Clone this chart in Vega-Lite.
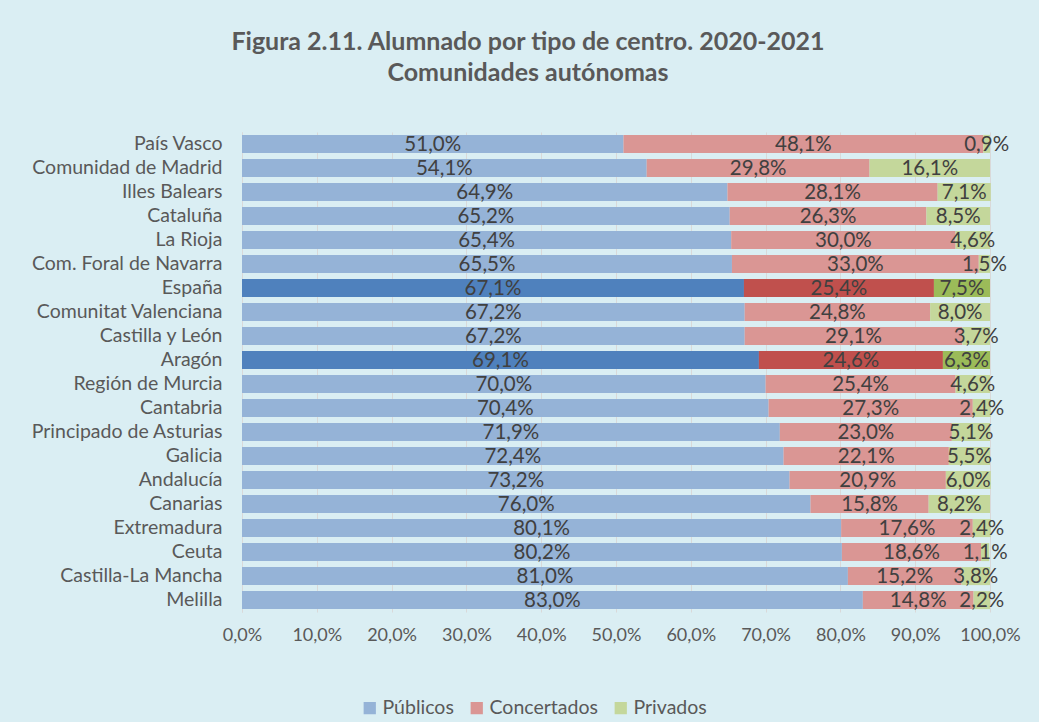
{
  "$schema": "https://vega.github.io/schema/vega-lite/v6.json",
  "autosize": {"type": "none"},
  "width": 748,
  "height": 480,
  "padding": {"left": 242, "top": 132, "right": 49, "bottom": 110},
  "background": "#DAEEF3",
  "config": {
    "locale": {"number": {"decimal": ",", "thousands": ".", "grouping": [3], "currency": ["", "%"]}},
    "view": {"stroke": null},
    "font": "Lato"
  },
  "title": {
    "text": ["Figura 2.11. Alumnado por tipo de centro. 2020-2021", "Comunidades autónomas"],
    "anchor": "middle",
    "frame": "group",
    "dx": -88,
    "offset": 46,
    "fontSize": 25,
    "fontWeight": "bold",
    "color": "#595959",
    "lineHeight": 31,
    "font": "Lato"
  },
  "data": {"values": [
    {"r": "País Vasco", "tipo": "Públicos", "o": 1, "v": 51.0, "h": false},
    {"r": "País Vasco", "tipo": "Concertados", "o": 2, "v": 48.1, "h": false},
    {"r": "País Vasco", "tipo": "Privados", "o": 3, "v": 0.9, "h": false},
    {"r": "Comunidad de Madrid", "tipo": "Públicos", "o": 1, "v": 54.1, "h": false},
    {"r": "Comunidad de Madrid", "tipo": "Concertados", "o": 2, "v": 29.8, "h": false},
    {"r": "Comunidad de Madrid", "tipo": "Privados", "o": 3, "v": 16.1, "h": false},
    {"r": "Illes Balears", "tipo": "Públicos", "o": 1, "v": 64.9, "h": false},
    {"r": "Illes Balears", "tipo": "Concertados", "o": 2, "v": 28.1, "h": false},
    {"r": "Illes Balears", "tipo": "Privados", "o": 3, "v": 7.1, "h": false},
    {"r": "Cataluña", "tipo": "Públicos", "o": 1, "v": 65.2, "h": false},
    {"r": "Cataluña", "tipo": "Concertados", "o": 2, "v": 26.3, "h": false},
    {"r": "Cataluña", "tipo": "Privados", "o": 3, "v": 8.5, "h": false},
    {"r": "La Rioja", "tipo": "Públicos", "o": 1, "v": 65.4, "h": false},
    {"r": "La Rioja", "tipo": "Concertados", "o": 2, "v": 30.0, "h": false},
    {"r": "La Rioja", "tipo": "Privados", "o": 3, "v": 4.6, "h": false},
    {"r": "Com. Foral de Navarra", "tipo": "Públicos", "o": 1, "v": 65.5, "h": false},
    {"r": "Com. Foral de Navarra", "tipo": "Concertados", "o": 2, "v": 33.0, "h": false},
    {"r": "Com. Foral de Navarra", "tipo": "Privados", "o": 3, "v": 1.5, "h": false},
    {"r": "España", "tipo": "Públicos", "o": 1, "v": 67.1, "h": true},
    {"r": "España", "tipo": "Concertados", "o": 2, "v": 25.4, "h": true},
    {"r": "España", "tipo": "Privados", "o": 3, "v": 7.5, "h": true},
    {"r": "Comunitat Valenciana", "tipo": "Públicos", "o": 1, "v": 67.2, "h": false},
    {"r": "Comunitat Valenciana", "tipo": "Concertados", "o": 2, "v": 24.8, "h": false},
    {"r": "Comunitat Valenciana", "tipo": "Privados", "o": 3, "v": 8.0, "h": false},
    {"r": "Castilla y León", "tipo": "Públicos", "o": 1, "v": 67.2, "h": false},
    {"r": "Castilla y León", "tipo": "Concertados", "o": 2, "v": 29.1, "h": false},
    {"r": "Castilla y León", "tipo": "Privados", "o": 3, "v": 3.7, "h": false},
    {"r": "Aragón", "tipo": "Públicos", "o": 1, "v": 69.1, "h": true},
    {"r": "Aragón", "tipo": "Concertados", "o": 2, "v": 24.6, "h": true},
    {"r": "Aragón", "tipo": "Privados", "o": 3, "v": 6.3, "h": true},
    {"r": "Región de Murcia", "tipo": "Públicos", "o": 1, "v": 70.0, "h": false},
    {"r": "Región de Murcia", "tipo": "Concertados", "o": 2, "v": 25.4, "h": false},
    {"r": "Región de Murcia", "tipo": "Privados", "o": 3, "v": 4.6, "h": false},
    {"r": "Cantabria", "tipo": "Públicos", "o": 1, "v": 70.4, "h": false},
    {"r": "Cantabria", "tipo": "Concertados", "o": 2, "v": 27.3, "h": false},
    {"r": "Cantabria", "tipo": "Privados", "o": 3, "v": 2.4, "h": false},
    {"r": "Principado de Asturias", "tipo": "Públicos", "o": 1, "v": 71.9, "h": false},
    {"r": "Principado de Asturias", "tipo": "Concertados", "o": 2, "v": 23.0, "h": false},
    {"r": "Principado de Asturias", "tipo": "Privados", "o": 3, "v": 5.1, "h": false},
    {"r": "Galicia", "tipo": "Públicos", "o": 1, "v": 72.4, "h": false},
    {"r": "Galicia", "tipo": "Concertados", "o": 2, "v": 22.1, "h": false},
    {"r": "Galicia", "tipo": "Privados", "o": 3, "v": 5.5, "h": false},
    {"r": "Andalucía", "tipo": "Públicos", "o": 1, "v": 73.2, "h": false},
    {"r": "Andalucía", "tipo": "Concertados", "o": 2, "v": 20.9, "h": false},
    {"r": "Andalucía", "tipo": "Privados", "o": 3, "v": 6.0, "h": false},
    {"r": "Canarias", "tipo": "Públicos", "o": 1, "v": 76.0, "h": false},
    {"r": "Canarias", "tipo": "Concertados", "o": 2, "v": 15.8, "h": false},
    {"r": "Canarias", "tipo": "Privados", "o": 3, "v": 8.2, "h": false},
    {"r": "Extremadura", "tipo": "Públicos", "o": 1, "v": 80.1, "h": false},
    {"r": "Extremadura", "tipo": "Concertados", "o": 2, "v": 17.6, "h": false},
    {"r": "Extremadura", "tipo": "Privados", "o": 3, "v": 2.4, "h": false},
    {"r": "Ceuta", "tipo": "Públicos", "o": 1, "v": 80.2, "h": false},
    {"r": "Ceuta", "tipo": "Concertados", "o": 2, "v": 18.6, "h": false},
    {"r": "Ceuta", "tipo": "Privados", "o": 3, "v": 1.1, "h": false},
    {"r": "Castilla-La Mancha", "tipo": "Públicos", "o": 1, "v": 81.0, "h": false},
    {"r": "Castilla-La Mancha", "tipo": "Concertados", "o": 2, "v": 15.2, "h": false},
    {"r": "Castilla-La Mancha", "tipo": "Privados", "o": 3, "v": 3.8, "h": false},
    {"r": "Melilla", "tipo": "Públicos", "o": 1, "v": 83.0, "h": false},
    {"r": "Melilla", "tipo": "Concertados", "o": 2, "v": 14.8, "h": false},
    {"r": "Melilla", "tipo": "Privados", "o": 3, "v": 2.2, "h": false}
  ]},
  "transform": [
    {"stack": "v", "groupby": ["r"], "sort": [{"field": "o"}], "as": ["x0", "x1"]},
    {"calculate": "(datum.x0 + datum.x1) / 2", "as": "xm"}
  ],
  "encoding": {
    "y": {
      "field": "r",
      "type": "nominal",
      "sort": ["País Vasco", "Comunidad de Madrid", "Illes Balears", "Cataluña", "La Rioja", "Com. Foral de Navarra", "España", "Comunitat Valenciana", "Castilla y León", "Aragón", "Región de Murcia", "Cantabria", "Principado de Asturias", "Galicia", "Andalucía", "Canarias", "Extremadura", "Ceuta", "Castilla-La Mancha", "Melilla"],
      "scale": {"paddingInner": 0.25, "paddingOuter": 0.12},
      "axis": {
        "title": null,
        "ticks": false,
        "domain": true,
        "domainColor": "#D9D9D9",
        "labelFontSize": 19.5,
        "labelColor": "#595959",
        "labelPadding": 20,
        "labelLimit": 300,
        "labelFont": "Lato"
      }
    }
  },
  "layer": [
    {
      "mark": {"type": "bar"},
      "encoding": {
        "x": {
          "field": "x0",
          "type": "quantitative",
          "scale": {"domain": [0, 100], "nice": false},
          "axis": {
            "title": null,
            "values": [0, 10, 20, 30, 40, 50, 60, 70, 80, 90, 100],
            "format": "$.1f",
            "grid": true,
            "gridColor": "#D9D9D9",
            "ticks": false,
            "domain": false,
            "labelOverlap": false,
            "labelFlush": false,
            "labelFontSize": 18,
            "labelColor": "#595959",
            "labelPadding": 14,
            "labelFont": "Lato"
          }
        },
        "x2": {"field": "x1"},
        "color": {
          "field": "tipo",
          "type": "nominal",
          "scale": {"domain": ["Públicos", "Concertados", "Privados"], "range": ["#95B3D7", "#DA9694", "#C4D79B"]},
          "legend": {
            "title": null,
            "orient": "none",
            "direction": "horizontal",
            "legendX": 118,
            "legendY": 566,
            "symbolType": "square",
            "symbolSize": 150,
            "symbolStrokeWidth": 0,
            "labelFontSize": 19.5,
            "labelColor": "#595959",
            "labelFont": "Lato",
            "columnPadding": 13,
            "labelOffset": 3
          }
        }
      }
    },
    {
      "transform": [{"filter": "datum.h"}],
      "mark": {"type": "bar"},
      "encoding": {
        "x": {"field": "x0", "type": "quantitative"},
        "x2": {"field": "x1"},
        "color": {
          "field": "tipo",
          "type": "nominal",
          "scale": {"domain": ["Públicos", "Concertados", "Privados"], "range": ["#4F81BD", "#C0504D", "#9BBB59"]},
          "legend": null
        }
      }
    },
    {
      "mark": {"type": "text", "fontSize": 20.5, "color": "#404040", "font": "Lato", "baseline": "middle", "dy": 1},
      "encoding": {
        "x": {"field": "xm", "type": "quantitative"},
        "text": {"field": "v", "type": "quantitative", "format": "$.1f"}
      }
    }
  ],
  "resolve": {"scale": {"color": "independent"}}
}
